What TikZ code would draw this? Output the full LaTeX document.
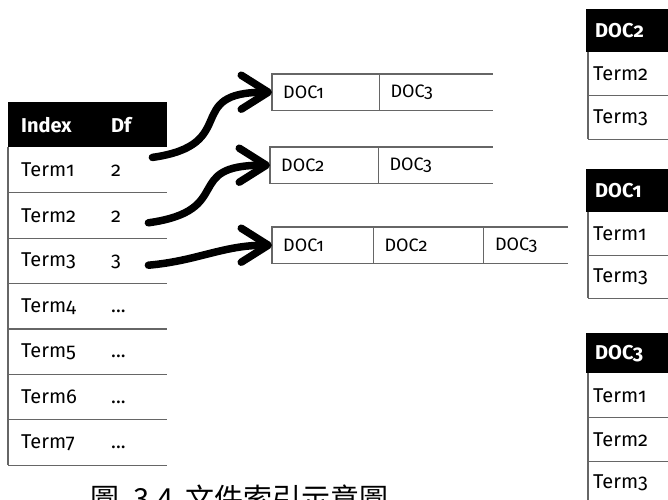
\documentclass[tikz,border=0pt]{standalone}
\usepackage{fontspec}
\setmainfont{Fira Sans}[Numbers=OldStyle]
\newfontfamily\cjk{Noto Sans CJK TC}
\usetikzlibrary{arrows.meta,positioning}
\tikzset{
    >={Straight Barb[length=27pt,width=34pt,round]},
    hoved/.style={
           fill=black, text=white,
           anchor=north west,
           minimum height=45pt,
           inner xsep=13pt, inner ysep=0pt,
           align=left,
           font=\fontsize{20}{20}\selectfont\bfseries},
    rad/.style={
           minimum height=45pt,
           inner xsep=13pt, inner ysep=0pt,
           align=left,
           font=\fontsize{20}{20}\selectfont},
    felt/.style={
           minimum height=36pt,
           inner xsep=11pt, inner ysep=0pt,
           align=left,
           font=\fontsize{18}{18}\selectfont},
    linje/.style={
           draw=black!60,
           line width=1.2pt},
    pil/.style={
           ->,
           line width=7.5pt,
           line cap=round}
}
\begin{document}
\begin{tikzpicture}[x=1pt, y=-1pt, node distance=0pt]
        \useasboundingbox (0,0) rectangle (668,499);

        % index table
        \node[hoved, text width=133pt] (idx) at (8,102) {\makebox[90pt][l]{Index}Df};
        \node[rad, text width=133pt, below=of idx] (r1) {\makebox[90pt][l]{Term1}2};
        \node[rad, text width=133pt, below=of r1] (r2) {\makebox[90pt][l]{Term2}2};
        \node[rad, text width=133pt, below=of r2] (r3) {\makebox[90pt][l]{Term3}3};
        \node[rad, text width=133pt, below=of r3] (r4) {\makebox[90pt][l]{Term4}...};
        \node[rad, text width=133pt, below=of r4] (r5) {\makebox[90pt][l]{Term5}...};
        \node[rad, text width=133pt, below=of r5] (r6) {\makebox[90pt][l]{Term6}...};
        \node[rad, text width=133pt, below=of r6] (r7) {\makebox[90pt][l]{Term7}...};

        \draw[linje] (r1.south west) -- (r1.south east);
        \draw[linje] (r2.south west) -- (r2.south east);
        \draw[linje] (r3.south west) -- (r3.south east);
        \draw[linje] (r4.south west) -- (r4.south east);
        \draw[linje] (r5.south west) -- (r5.south east);
        \draw[linje] (r6.south west) -- (r6.south east);
        \draw[linje] (r7.south west) -- (r7.south east);
        \draw[linje] (r1.north west) -- (r7.south west);

        % posting lists
        \node[felt, anchor=north west, text width=85pt] (b1a) at (272,74) {DOC1};
        \node[felt, text width=91pt, right=of b1a] (b1b) {DOC3};
        \node[felt, anchor=north west, text width=86pt] (b2a) at (270,147) {DOC2};
        \node[felt, text width=92pt, right=of b2a] (b2b) {DOC3};
        \node[felt, anchor=north west, text width=79pt] (b3a) at (272,227) {DOC1};
        \node[felt, text width=88pt, right=of b3a] (b3b) {DOC2};
        \node[felt, text width=62pt, right=of b3b] (b3c) {DOC3};

        \draw[linje] (b1b.north east) -- (b1a.north west) -- (b1a.south west) -- (b1b.south east);
        \draw[linje] (b1a.north east) -- (b1a.south east);
        \draw[linje] (b2b.north east) -- (b2a.north west) -- (b2a.south west) -- (b2b.south east);
        \draw[linje] (b2a.north east) -- (b2a.south east);
        \draw[linje] (b3c.north east) -- (b3a.north west) -- (b3a.south west) -- (b3c.south east);
        \draw[linje] (b3a.north east) -- (b3a.south east);
        \draw[linje] (b3b.north east) -- (b3b.south east);

        \draw[pil] ([shift={(-15,10)}]r1.north east) to[out=8, in=180, looseness=1.7] (b1a.west);
        \draw[pil] ([shift={(-19,30)}]r2.north east) to[out=8, in=180, looseness=1.7] (b2a.west);
        \draw[pil] ([shift={(-19,27)}]r3.north east) to[out=5, in=180] (b3a.west);

        % documents
        \node[hoved, inner xsep=9pt, text width=80pt, minimum height=43pt] (d2) at (586,9) {DOC2};
        \node[rad, inner xsep=5pt, text width=84pt, minimum height=43pt, below=of d2] (d2a) {Term2};
        \node[rad, inner xsep=5pt, text width=84pt, minimum height=43pt, below=of d2a] (d2b) {Term3};
        \draw[linje] (d2a.south west) -- (d2a.south east);
        \draw[linje] (d2b.south west) -- (d2b.south east);
        \draw[linje] (d2a.north west) -- (d2b.south west);

        \node[hoved, inner xsep=9pt, text width=80pt, minimum height=43pt] (d1) at (586,169) {DOC1};
        \node[rad, inner xsep=5pt, text width=84pt, minimum height=43pt, below=of d1] (d1a) {Term1};
        \node[rad, inner xsep=5pt, text width=84pt, minimum height=42pt, below=of d1a] (d1b) {Term3};
        \draw[linje] (d1a.south west) -- (d1a.south east);
        \draw[linje] (d1b.south west) -- (d1b.south east);
        \draw[linje] (d1a.north west) -- (d1b.south west);

        \node[hoved, inner xsep=9pt, text width=80pt, minimum height=40pt] (d3) at (586,333) {DOC3};
        \node[rad, inner xsep=5pt, text width=84pt, minimum height=44pt, below=of d3] (d3a) {Term1};
        \node[rad, inner xsep=5pt, text width=84pt, minimum height=43pt, below=of d3a] (d3b) {Term2};
        \node[rad, inner xsep=5pt, text width=84pt, minimum height=43pt, below=of d3b] (d3c) {Term3};
        \draw[linje] (d3a.south west) -- (d3a.south east);
        \draw[linje] (d3b.south west) -- (d3b.south east);
        \draw[linje] (d3a.north west) -- (d3c.south west);

        \node[anchor=base west, inner sep=0pt, font=\cjk\fontsize{29}{29}\selectfont] (cap) at (90,509)
             {圖\hspace{14pt}3.4\hspace{12pt}文件索引示意圖};
    \end{tikzpicture}
\end{document}
